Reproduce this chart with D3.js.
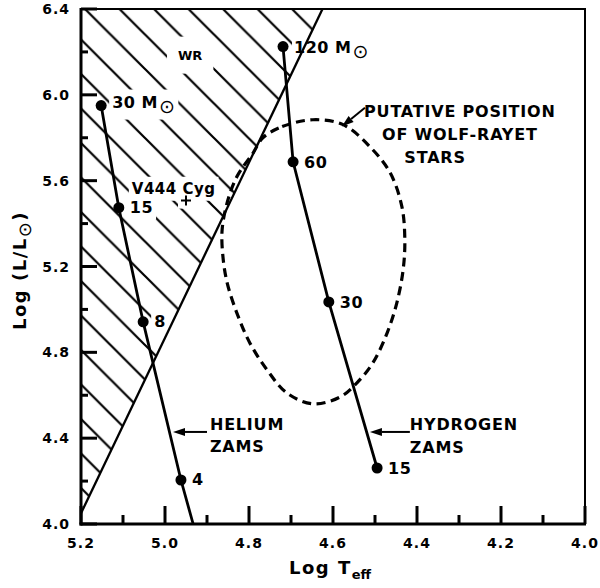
<!DOCTYPE html>
<html>
<head>
<meta charset="utf-8">
<script src="https://cdn.jsdelivr.net/npm/d3@7"></script>
<style>
  html, body { margin: 0; padding: 0; background: #fff; }
  svg { display: block; font-family: "DejaVu Sans", sans-serif; font-weight: bold; }
</style>
</head>
<body>
<svg id="chart" width="600" height="588"></svg>
<script>
// Axis ticks
const xMajorTicks = [5.2, 5.0, 4.8, 4.6, 4.4, 4.2, 4.0];
const xMinorTicks = [5.1, 4.9, 4.7, 4.5, 4.3, 4.1];
const yMajorTicks = [4.0, 4.4, 4.8, 5.2, 5.6, 6.0, 6.4];
const yMinorTicks = [4.2, 4.6, 5.0, 5.4, 5.8, 6.2];

// Helium zero-age main sequence (mass in solar masses)
const heliumMass = ["30", "15", "8", "4"];
const heliumLogT = [5.152, 5.110, 5.052, 4.962];
const heliumLogL = [5.95, 5.474, 4.942, 4.205];
const heliumTailLogT = 4.933;   // the track runs on to the lower axis
const heliumTailLogL = 4.0;

// Hydrogen zero-age main sequence
const hydrogenMass = ["120", "60", "30", "15"];
const hydrogenLogT = [4.719, 4.695, 4.610, 4.495];
const hydrogenLogL = [6.225, 5.688, 5.035, 4.261];

// Edge of the forbidden (hatched) region
const edgeLogT = [5.2, 4.625];
const edgeLogL = [4.05, 6.4];

// Putative Wolf-Rayet region outline
const wrLogT = [4.767, 4.721, 4.648, 4.576, 4.512, 4.464, 4.436, 4.429, 4.433, 4.448,
                4.471, 4.505, 4.543, 4.583, 4.648, 4.710, 4.757, 4.798, 4.829, 4.852,
                4.862, 4.864, 4.852, 4.829, 4.790];
const wrLogL = [5.800, 5.852, 5.884, 5.861, 5.758, 5.637, 5.479, 5.325, 5.185, 5.031,
                4.891, 4.751, 4.658, 4.592, 4.560, 4.611, 4.718, 4.844, 4.984, 5.124,
                5.245, 5.371, 5.497, 5.618, 5.730];

// V444 Cyg
const v444LogT = 4.95;
const v444LogL = 5.507;

const svg = d3.select("#chart");
const x = d3.scaleLinear().domain([5.2, 4.0]).range([81, 585]);
const y = d3.scaleLinear().domain([4.0, 6.4]).range([524, 9]);

svg.append("rect").attr("x", 0).attr("y", 0).attr("width", 600).attr("height", 588).attr("fill", "#fff");

// Hatch pattern for the forbidden region
const hs = 34.5;
const defs = svg.append("defs");
defs.append("pattern")
  .attr("id", "hatch")
  .attr("patternUnits", "userSpaceOnUse")
  .attr("x", 76).attr("y", 0)
  .attr("width", hs).attr("height", hs)
  .append("path")
  .attr("d", `M-3,-3 L${hs + 3},${hs + 3} M-3,${hs - 3} L3,${hs + 3} M${hs - 3},-3 L${hs + 3},3`)
  .attr("stroke", "#000").attr("stroke-width", 2.2).attr("fill", "none");

const region = [[5.2, 6.4], [edgeLogT[1], edgeLogL[1]], [edgeLogT[0], edgeLogL[0]]];
svg.append("path")
  .attr("d", d3.line().x(d => x(d[0])).y(d => y(d[1]))(region) + "Z")
  .attr("fill", "url(#hatch)");

// Knockouts, lines and labels, in paint order
const knock = svg.append("g");
const lines = svg.append("g");
const labels = svg.append("g");

function sunText(sel, size) {
  sel.append("tspan").text("M");
  sel.append("tspan").attr("dx", 1).attr("dy", 5)
    .style("font-size", size + "px").style("font-weight", "normal").text("⊙");
}

// Annotation texts
const wrLabel = labels.append("text")
  .attr("x", x(4.94)).attr("y", y(6.164))
  .attr("text-anchor", "middle")
  .style("font-size", "13px").text("WR");

const v444Label = labels.append("text")
  .attr("x", x(5.079)).attr("y", y(5.539))
  .style("font-size", "15px").style("letter-spacing", "0.5px").text("V444 Cyg");

// Track point labels
const heLabels = heliumMass.map((m, i) => {
  const t = labels.append("text")
    .attr("x", x(heliumLogT[i]) + 11)
    .attr("y", y(heliumLogL[i]) + (i === 0 ? 2 : 5))
    .style("font-size", "16px").style("letter-spacing", "0.5px");
  if (i === 0) { t.append("tspan").text(m + " "); sunText(t, 19); }
  else t.text(m);
  return t;
});

const hLabels = hydrogenMass.map((m, i) => {
  const t = labels.append("text")
    .attr("x", x(hydrogenLogT[i]) + 11)
    .attr("y", y(hydrogenLogL[i]) + 6)
    .style("font-size", "16px").style("letter-spacing", "0.5px");
  if (i === 0) { t.append("tspan").text(m + " "); sunText(t, 19); }
  else t.text(m);
  return t;
});

// Clear hatching around labels that sit in the hatched region
function clearBehind(t, pad) {
  const b = t.node().getBBox();
  knock.append("rect")
    .attr("x", b.x - pad).attr("y", b.y - pad)
    .attr("width", b.width + 2 * pad).attr("height", b.height + 2 * pad)
    .attr("fill", "#fff");
}
clearBehind(wrLabel, 11);
clearBehind(v444Label, 3);
heLabels.forEach(t => clearBehind(t, 3));
clearBehind(hLabels[0], 2);
knock.append("rect")
  .attr("x", x(v444LogT) - 8).attr("y", y(v444LogL) - 8)
  .attr("width", 16).attr("height", 16).attr("fill", "#fff");

// Forbidden-region edge
lines.append("line")
  .attr("x1", x(edgeLogT[0])).attr("y1", y(edgeLogL[0]))
  .attr("x2", x(edgeLogT[1])).attr("y2", y(edgeLogL[1]))
  .attr("stroke", "#000").attr("stroke-width", 2.3);

// Wolf-Rayet outline
lines.append("path")
  .attr("d", d3.line().x(d => x(d[0])).y(d => y(d[1])).curve(d3.curveCatmullRomClosed)(
    wrLogT.map((t, i) => [t, wrLogL[i]])))
  .attr("fill", "none").attr("stroke", "#000")
  .attr("stroke-width", 3.2).attr("stroke-dasharray", "9,5.5");

// ZAMS tracks
const track = d3.line().x(d => x(d[0])).y(d => y(d[1]));
lines.append("path")
  .attr("d", track(heliumLogT.map((t, i) => [t, heliumLogL[i]]).concat([[heliumTailLogT, heliumTailLogL]])))
  .attr("fill", "none").attr("stroke", "#000").attr("stroke-width", 2.8);
lines.append("path")
  .attr("d", track(hydrogenLogT.map((t, i) => [t, hydrogenLogL[i]])))
  .attr("fill", "none").attr("stroke", "#000").attr("stroke-width", 2.8);

heliumLogT.forEach((t, i) => {
  lines.append("circle").attr("cx", x(t)).attr("cy", y(heliumLogL[i])).attr("r", 5.5);
});
hydrogenLogT.forEach((t, i) => {
  lines.append("circle").attr("cx", x(t)).attr("cy", y(hydrogenLogL[i])).attr("r", 5.5);
});

// V444 Cyg marker
const vx = x(v444LogT), vy = y(v444LogL);
lines.append("path")
  .attr("d", `M${vx - 5},${vy} H${vx + 5} M${vx},${vy - 5} V${vy + 5}`)
  .attr("stroke", "#000").attr("stroke-width", 2);

// Arrows
function arrow(t0, l0, t1, l1) {
  const x0 = x(t0), y0 = y(l0), x1 = x(t1), y1 = y(l1);
  const a = Math.atan2(y1 - y0, x1 - x0);
  const len = 12, w = 4;
  const bx = x1 - len * Math.cos(a), by = y1 - len * Math.sin(a);
  lines.append("line").attr("x1", x0).attr("y1", y0).attr("x2", bx).attr("y2", by)
    .attr("stroke", "#000").attr("stroke-width", 2);
  lines.append("path")
    .attr("d", `M${x1},${y1} L${bx + w * Math.sin(a)},${by - w * Math.cos(a)} L${bx - w * Math.sin(a)},${by + w * Math.cos(a)} Z`)
    .attr("fill", "#000");
}
arrow(4.900, 4.429, 4.981, 4.429);
arrow(4.417, 4.429, 4.512, 4.429);
arrow(4.524, 5.94, 4.579, 5.852);

// Annotation blocks
function block(lineTexts, anchor) {
  lineTexts.forEach(d => {
    labels.append("text")
      .attr("x", x(d[1])).attr("y", y(d[2]))
      .attr("text-anchor", anchor)
      .style("font-size", "16px").style("letter-spacing", "0.8px")
      .text(d[0]);
  });
}
block([["HELIUM", 4.893, 4.438], ["ZAMS", 4.893, 4.336]], "start");
block([["HYDROGEN", 4.417, 4.438], ["ZAMS", 4.417, 4.331]], "start");
block([["PUTATIVE POSITION", 4.298, 5.898], ["OF WOLF-RAYET", 4.298, 5.791], ["STARS", 4.357, 5.684]], "middle");

// Tick labels
const fmt = d3.format(".1f");
svg.append("g").selectAll("text").data(xMajorTicks).join("text")
  .attr("x", d => x(d)).attr("y", y(4.0) + 24)
  .attr("text-anchor", "middle")
  .style("font-size", "14px").style("letter-spacing", "1px")
  .text(fmt);
svg.append("g").selectAll("text").data(yMajorTicks).join("text")
  .attr("x", x(5.2) - 11).attr("y", d => y(d) + 5)
  .attr("text-anchor", "end")
  .style("font-size", "14px").style("letter-spacing", "1px")
  .text(fmt);

// Plot frame
const frame = svg.append("g");
function seg(x1, y1, x2, y2, w) {
  frame.append("path")
    .attr("d", `M${x1},${y1}L${x2},${y2}`)
    .attr("fill", "none").attr("stroke", "#000").attr("stroke-width", w);
}
seg(x(5.2), y(6.4) - 1, x(5.2), y(4.0) + 1.5, 3);
seg(x(5.2) - 1.5, y(4.0), x(4.0) + 1, y(4.0), 3);
seg(x(5.2), y(6.4), x(4.0) + 1, y(6.4), 2);
seg(x(4.0), y(6.4), x(4.0), y(4.0), 2);

// Inward tick marks
const tickG = svg.append("g");
tickG.selectAll("path.xmaj").data(xMajorTicks).join("path").attr("class", "xmaj")
  .attr("d", d => `M${x(d)},${y(4.0)}V${y(4.0) - 18}`)
  .attr("fill", "none").attr("stroke", "#000").attr("stroke-width", 3);
tickG.selectAll("path.xmin").data(xMinorTicks).join("path").attr("class", "xmin")
  .attr("d", d => `M${x(d)},${y(4.0)}V${y(4.0) - 9}`)
  .attr("fill", "none").attr("stroke", "#000").attr("stroke-width", 3);
tickG.selectAll("path.ymaj").data(yMajorTicks).join("path").attr("class", "ymaj")
  .attr("d", d => `M${x(5.2)},${y(d)}H${x(5.2) + 16}`)
  .attr("fill", "none").attr("stroke", "#000").attr("stroke-width", 3);
tickG.selectAll("path.ymin").data(yMinorTicks).join("path").attr("class", "ymin")
  .attr("d", d => `M${x(5.2)},${y(d)}H${x(5.2) + 7}`)
  .attr("fill", "none").attr("stroke", "#000").attr("stroke-width", 3);

// Axis titles
const xt = svg.append("text").attr("x", 330).attr("y", 574)
  .attr("text-anchor", "middle").style("font-size", "18px").style("letter-spacing", "1.5px");
xt.append("tspan").text("Log T");
xt.append("tspan").attr("dy", 5).style("font-size", "13px").style("letter-spacing", "0px").text("eff");

const yt = svg.append("text")
  .attr("transform", `translate(26,${(y(4.0) + y(6.4)) / 2 + 4}) rotate(-90)`)
  .attr("text-anchor", "middle").style("font-size", "18px").style("letter-spacing", "1.5px");
yt.append("tspan").text("Log (L/L");
yt.append("tspan").attr("dy", 5).style("font-size", "18px").style("font-weight", "normal").text("⊙");
yt.append("tspan").attr("dy", -5).text(")");
</script>
</body>
</html>
